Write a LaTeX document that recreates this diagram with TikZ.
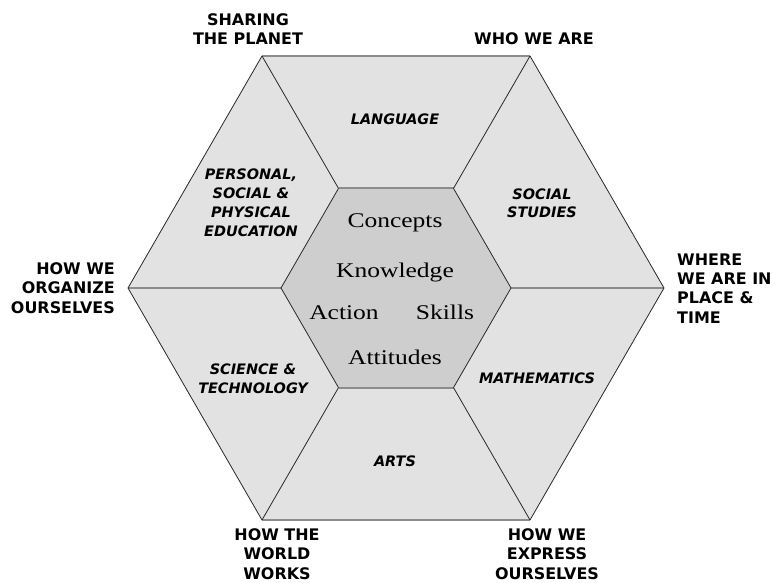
\documentclass[tikz,border=0pt]{standalone}
\usepackage{fontspec}
\setmainfont{Liberation Serif}
\newfontfamily\innerfont{Liberation Serif}[FakeStretch=1.22]
\newfontfamily\labfont{DejaVu Sans}
\definecolor{outerfill}{RGB}{226,226,226}
\definecolor{innerfill}{RGB}{206,206,206}
\definecolor{hline}{RGB}{140,140,140}
\definecolor{dline}{RGB}{40,40,40}
\tikzset{
  theme/.style={font=\labfont\bfseries\fontsize{16}{19.3}\selectfont, anchor=base, inner sep=0pt},
  subject/.style={font=\labfont\bfseries\itshape\fontsize{14.5}{19}\selectfont, anchor=base, inner sep=0pt, align=center},
  element/.style={font=\innerfont\fontsize{21}{24}\selectfont, anchor=base, inner sep=0pt},
  hedge/.style={draw=hline, line width=2bp},
  dedge/.style={draw=dline, line width=0.8bp},
}
\begin{document}
\begin{tikzpicture}[x=1bp,y=-1bp]
\useasboundingbox (0,0) rectangle (777,583);
% outer vertices
\coordinate (oR) at (664,288);
\coordinate (oTR) at (530,56);
\coordinate (oTL) at (262,56);
\coordinate (oL) at (128,288);
\coordinate (oBL) at (262,520);
\coordinate (oBR) at (530,520);
% inner vertices
\coordinate (iR) at (511,288);
\coordinate (iTR) at (453.5,188.4);
\coordinate (iTL) at (338.5,188.4);
\coordinate (iL) at (281,288);
\coordinate (iBL) at (338.5,387.6);
\coordinate (iBR) at (453.5,387.6);
% fills
\fill[outerfill] (oR) -- (oTR) -- (oTL) -- (oL) -- (oBL) -- (oBR) -- cycle;
\fill[innerfill] (iR) -- (iTR) -- (iTL) -- (iL) -- (iBL) -- (iBR) -- cycle;
% horizontal edges
\draw[hedge] (oTL) -- (oTR);
\draw[hedge] (oBL) -- (oBR);
\draw[hedge] (iTL) -- (iTR);
\draw[hedge] (iBL) -- (iBR);
\draw[hedge] (oL) -- (iL);
\draw[hedge] (iR) -- (oR);
% diagonal edges
\draw[dedge] (oTR) -- (oR) -- (oBR);
\draw[dedge] (oTL) -- (oL) -- (oBL);
\draw[dedge] (iTR) -- (iR) -- (iBR);
\draw[dedge] (iTL) -- (iL) -- (iBL);
\draw[dedge] (oTL) -- (iTL);
\draw[dedge] (oTR) -- (iTR);
\draw[dedge] (oBL) -- (iBL);
\draw[dedge] (oBR) -- (iBR);
% themes (anchor base = baseline of the last line)
\node[theme, align=center] (share) at (248,45) {SHARING\\THE PLANET};
\node[theme] (who) at (534,45) {WHO WE ARE};
\node[theme, align=left, anchor=base west] (where) at (677,323) {WHERE\\WE ARE IN\\PLACE \&\\TIME};
\node[theme, align=right, anchor=base east] (org) at (115,313) {HOW WE\\ORGANIZE\\OURSELVES};
\node[theme, align=center] (world) at (277,579) {HOW THE\\WORLD\\WORKS};
\node[theme, align=center] (express) at (547,579) {HOW WE\\EXPRESS\\OURSELVES};
% subjects
\node[subject] (lang) at (395,125) {LANGUAGE};
\node[subject] (pspe) at (251,236) {PERSONAL,\\SOCIAL \&\\PHYSICAL\\EDUCATION};
\node[subject] (soc) at (542,218) {SOCIAL\\STUDIES};
\node[subject] (math) at (537,383) {MATHEMATICS};
\node[subject] (sci) at (253,393) {SCIENCE \&\\TECHNOLOGY};
\node[subject] (arts) at (395,466) {ARTS};
% elements
\node[element] (conc) at (395,228) {Concepts};
\node[element] (know) at (395,277) {Knowledge};
\node[element] (act) at (344,319) {Action};
\node[element] (skill) at (445,319) {Skills};
\node[element] (att) at (395,364) {Attitudes};
\end{tikzpicture}
\end{document}
